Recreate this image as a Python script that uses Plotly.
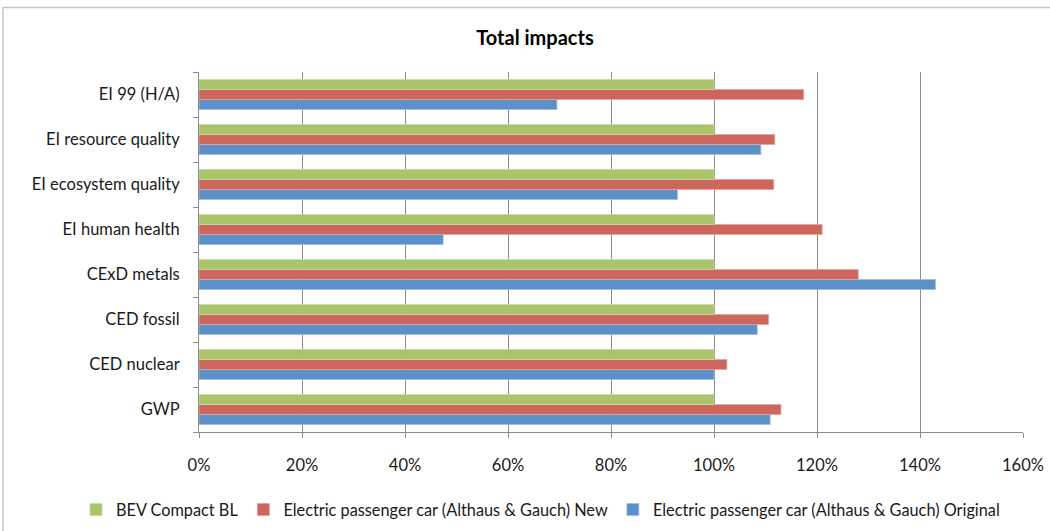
import plotly.graph_objects as go

categories = ["GWP", "CED nuclear", "CED fossil", "CExD metals", "EI human health",
              "EI ecosystem quality", "EI resource quality", "EI 99 (H/A)"]
original = [110.9, 100.0, 108.4, 143.0, 47.4, 92.9, 109.1, 69.5]
new = [113.0, 102.5, 110.6, 128.0, 121.0, 111.6, 111.8, 117.4]
bev = [100, 100, 100, 100, 100, 100, 100, 100]

tick_vals = [0, 20, 40, 60, 80, 100, 120, 140, 160]
tick_text = ["0%", "20%", "40%", "60%", "80%", "100%", "120%", "140%", "160%"]

FONT = "Lato"
fig = go.Figure()
fig.add_trace(go.Bar(y=categories, x=original, orientation="h",
                     name="Electric passenger car (Althaus & Gauch) Original",
                     marker=dict(color="#5B90C8", line=dict(color="#9DBDE0", width=0.8))))
fig.add_trace(go.Bar(y=categories, x=new, orientation="h",
                     name="Electric passenger car (Althaus & Gauch) New",
                     marker=dict(color="#CD665C", line=dict(color="#E3A39C", width=0.8))))
fig.add_trace(go.Bar(y=categories, x=bev, orientation="h",
                     name="BEV Compact BL",
                     marker=dict(color="#A9C46B", line=dict(color="#CADBA3", width=0.8))))

fig.update_layout(
    width=1050, height=531,
    margin=dict(l=199, r=27, t=72, b=99, autoexpand=False),
    paper_bgcolor="white", plot_bgcolor="white",
    barmode="group", bargap=0.333, bargroupgap=0,
    font=dict(family=FONT, size=16.5, color="#1a1a1a"),
    title=dict(text="<b>Total impacts</b>", x=535 / 1050, xref="container", xanchor="center",
               y=1 - 38 / 531, yanchor="middle", font=dict(family=FONT, size=20, color="#000")),
    showlegend=True,
    legend=dict(orientation="h", traceorder="reversed",
                x=(76 - 199) / 824, xref="paper", xanchor="left",
                y=(432 - 510) / 360, yref="paper", yanchor="middle",
                font=dict(family=FONT, size=16.3, color="#1a1a1a"), itemwidth=30),
    xaxis=dict(range=[0, 160], tickvals=tick_vals, ticktext=tick_text,
               showgrid=True, gridcolor="#8C8C8C", gridwidth=1,
               showline=True, linecolor="#8C8C8C", linewidth=1,
               ticks="outside", ticklen=5, tickcolor="#8C8C8C",
               ticklabelstandoff=13, zeroline=False, fixedrange=True),
    yaxis=dict(showline=True, linecolor="#8C8C8C", linewidth=1,
               ticks="outside", ticklen=5, tickcolor="#8C8C8C", tickson="boundaries",
               ticklabelstandoff=15, showgrid=False),
    shapes=[dict(type="rect", xref="paper", yref="paper",
                 x0=(3 - 199) / 824, x1=(1060 - 199) / 824,
                 y0=(432 - 540) / 360, y1=(432 - 7.5) / 360,
                 line=dict(color="#C8C8C8", width=1.5), fillcolor="rgba(0,0,0,0)", layer="below")],
)

fig.write_html("out.html")
